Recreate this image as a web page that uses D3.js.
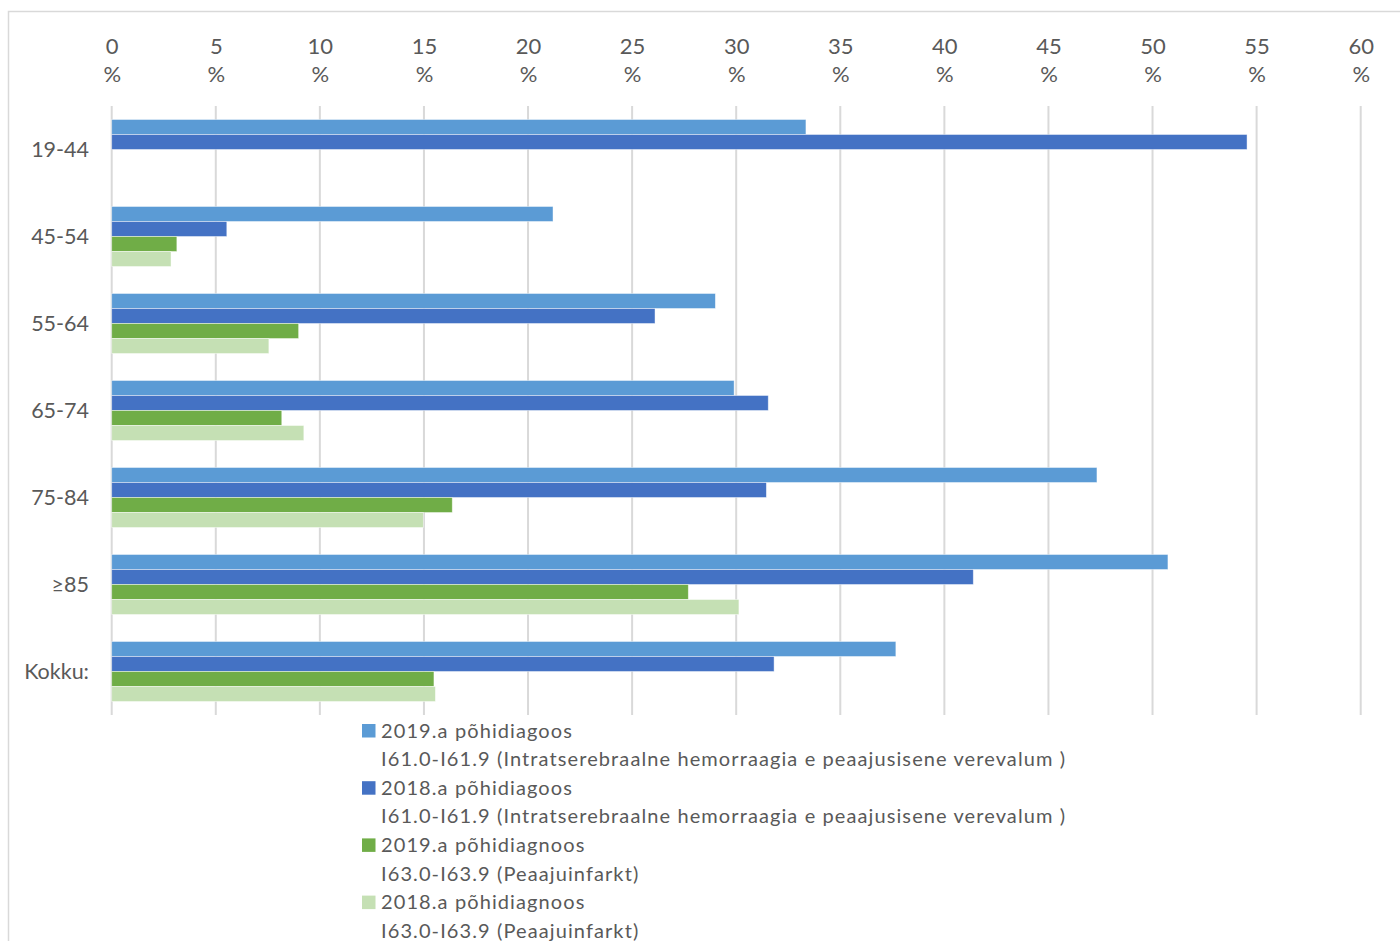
<!DOCTYPE html>
<html>
<head>
<meta charset="utf-8">
<script src="https://cdn.jsdelivr.net/npm/d3@7"></script>
<style>
  html, body { margin: 0; padding: 0; background: #fff; }
  svg { display: block; }
  text { font-family: Lato, "Open Sans", sans-serif; fill: #595959; }
</style>
</head>
<body>
<svg id="chart" width="1400" height="941"></svg>
<script>
// Age groups (rows) and the four series of shares, in percent
const categories = ["19-44", "45-54", "55-64", "65-74", "75-84", "≥85", "Kokku:"];
const ich2019 = [33.35, 21.2, 29.0, 29.9, 47.33, 50.74, 37.67];
const ich2018 = [54.54, 5.53, 26.1, 31.54, 31.45, 41.39, 31.82];
const inf2019 = [null, 3.13, 8.98, 8.17, 16.36, 27.7, 15.48];
const inf2018 = [null, 2.85, 7.55, 9.23, 14.97, 30.13, 15.55];

const xTicks = [0, 5, 10, 15, 20, 25, 30, 35, 40, 45, 50, 55, 60];

const seriesKeys = ["ich2019", "ich2018", "inf2019", "inf2018"];
const seriesValues = { ich2019, ich2018, inf2019, inf2018 };
const seriesColors = ["#5B9BD5", "#4472C4", "#70AD47", "#C5E0B4"];
const seriesLabels = [
  ["2019.a põhidiagoos", "I61.0-I61.9 (Intratserebraalne hemorraagia e peaajusisene verevalum )"],
  ["2018.a põhidiagoos", "I61.0-I61.9 (Intratserebraalne hemorraagia e peaajusisene verevalum )"],
  ["2019.a põhidiagnoos", "I63.0-I63.9 (Peaajuinfarkt)"],
  ["2018.a põhidiagnoos", "I63.0-I63.9 (Peaajuinfarkt)"]
];

const svg = d3.select("#chart");

// outer chart frame
svg.append("rect")
  .attr("x", 8.5).attr("y", 11.5)
  .attr("width", 1420).attr("height", 1000)
  .attr("fill", "none").attr("stroke", "#d9d9d9").attr("stroke-width", 1.5);

const plotTop = 106, plotBottom = 715;
const x = d3.scaleLinear().domain([0, 60]).range([111.7, 1360.7]);
const y = d3.scaleBand().domain(categories).range([plotTop, plotBottom])
  .paddingInner(0.31).paddingOuter(0.155);
const ySub = d3.scaleBand().domain(seriesKeys).range([0, y.bandwidth()]);
const color = d3.scaleOrdinal().domain(seriesKeys).range(seriesColors);

// vertical gridlines
svg.append("g").selectAll("line").data(xTicks).join("line")
  .attr("x1", d => x(d)).attr("x2", d => x(d))
  .attr("y1", plotTop).attr("y2", plotBottom)
  .attr("stroke", "#d9d9d9").attr("stroke-width", 2);

// top axis: value on one line, "%" below
const axis = svg.append("g")
  .call(d3.axisTop(x).tickValues(xTicks).tickSize(0).tickFormat(""));
axis.select(".domain").remove();
axis.selectAll(".tick").each(function(d) {
  const t = d3.select(this).append("text")
    .attr("text-anchor", "middle")
    .style("font-size", "22px");
  t.append("tspan").attr("x", 0).attr("y", 54).text(d);
  t.append("tspan").attr("x", 0).attr("y", 82).text("%");
});

// category labels
const yAxis = svg.append("g")
  .attr("transform", "translate(89,0)")
  .call(d3.axisLeft(y).tickSize(0).tickPadding(0));
yAxis.select(".domain").remove();
yAxis.selectAll(".tick text")
  .attr("fill", "#595959")
  .style("font-family", "Lato, 'Open Sans', sans-serif")
  .style("font-size", "21.5px")
  .attr("dy", "0.34em");

// bars
const groups = svg.append("g").selectAll("g").data(categories).join("g")
  .attr("transform", d => `translate(0,${y(d)})`);
groups.selectAll("rect")
  .data((c, i) => seriesKeys
    .map(k => ({ key: k, value: seriesValues[k][i] }))
    .filter(d => d.value != null))
  .join("rect")
  .attr("x", x(0))
  .attr("y", d => ySub(d.key))
  .attr("width", d => x(d.value) - x(0))
  .attr("height", ySub.bandwidth())
  .attr("fill", d => color(d.key))
  .attr("stroke", "rgba(255,255,255,0.55)")
  .attr("stroke-width", 0.8);

// legend
const legend = svg.append("g").attr("transform", "translate(362,0)");
const entryTop = 724, linePitch = 28.6;
seriesKeys.forEach((k, i) => {
  const top = entryTop + i * 2 * linePitch;
  legend.append("rect")
    .attr("x", 0).attr("y", top).attr("width", 13.5).attr("height", 13.5)
    .attr("fill", color(k));
  const t = legend.append("text")
    .style("font-size", "20px")
    .style("letter-spacing", "1.1px");
  seriesLabels[i].forEach((line, j) => {
    t.append("tspan").attr("x", 19).attr("y", top + 13.5 + j * linePitch).text(line);
  });
});
</script>
</body>
</html>
